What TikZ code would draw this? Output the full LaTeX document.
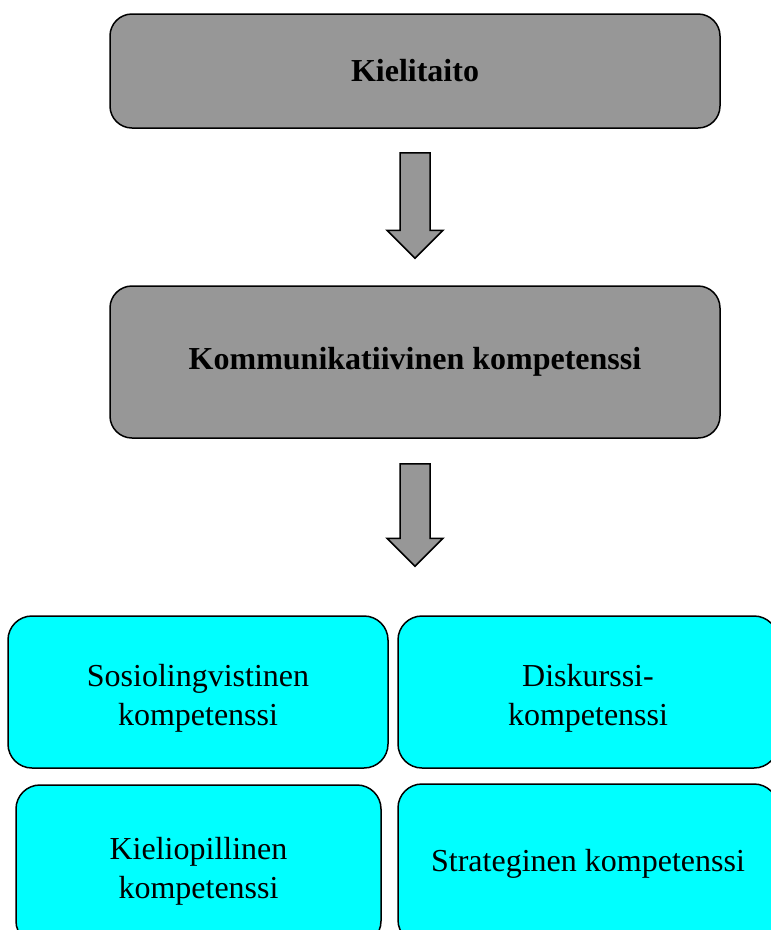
\documentclass[tikz,border=0pt]{standalone}
\usepackage{fontspec}
\setmainfont{Liberation Serif}
\usetikzlibrary{calc}
\definecolor{boxgray}{HTML}{979797}
\definecolor{boxcyan}{HTML}{00FFFF}
\tikzset{
  graybox/.style={draw=black, line width=1.5pt, fill=boxgray, rounded corners=22pt,
    minimum width=610pt, align=center, font=\fontsize{32}{36}\selectfont\bfseries},
  cyanbox/.style={draw=black, line width=1.5pt, fill=boxcyan, rounded corners=24pt,
    font=\fontsize{32}{39}\selectfont},
  blockarrow/.style={draw=black, line width=1.5pt, fill=boxgray, line join=miter}
}
% two centred lines, set a little below the middle of the box
\newcommand{\twolines}[2]{\raisebox{-12pt}[40pt][40pt]{\begin{tabular}{@{}c@{}}#1\\#2\end{tabular}}}
% block arrow between two named points: shaft from #1 to the head tip at #2
\newcommand{\blockarr}[2]{%
  \draw[blockarrow]
    ($#1+(-15,0)$) -- ($#1+(15,0)$) -- ($#2+(15,-28)$) -- ($#2+(28,-28)$)
    -- #2 -- ($#2+(-28,-28)$) -- ($#2+(-15,-28)$) -- cycle;}
\begin{document}
\begin{tikzpicture}[x=1pt, y=-1pt]
  \clip (0,0) rectangle (771,930);
  \fill[white] (0,0) rectangle (771,930);

  \node[graybox, minimum height=114pt] (kieli) at (415,71) {Kielitaito};
  \node[graybox, minimum height=152pt] (komm) at (415,362) {Kommunikatiivinen kompetenssi};

  \node[cyanbox, minimum width=380pt, minimum height=152pt] (sosio) at (198,692)
    {\twolines{Sosiolingvistinen}{kompetenssi}};
  \node[cyanbox, minimum width=380pt, minimum height=152pt] (disk) at (588,692)
    {\twolines{Diskurssi-}{kompetenssi}};
  \node[cyanbox, minimum width=365pt, minimum height=160pt] (kielio) at (198.5,865)
    {\twolines{Kieliopillinen}{kompetenssi}};
  \node[cyanbox, minimum width=380pt, minimum height=160pt] (strat) at (588,864)
    {Strateginen kompetenssi};

  \coordinate (a1s) at ($(kieli.south)+(0,24)$);
  \coordinate (a1e) at ($(komm.north)+(0,-27)$);
  \coordinate (a2s) at ($(komm.south)+(0,25)$);
  \coordinate (a2e) at ($(sosio.north -| komm.south)+(0,-49)$);
  \blockarr{(a1s)}{(a1e)}
  \blockarr{(a2s)}{(a2e)}
\end{tikzpicture}
\end{document}
